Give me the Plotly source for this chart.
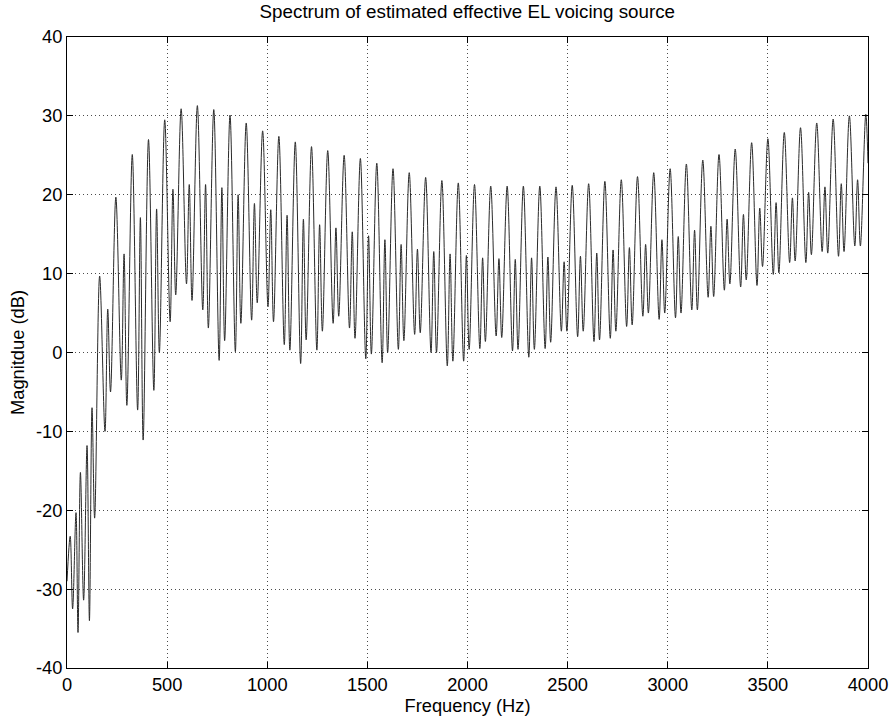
import plotly.graph_objects as go

# ---------------- data ----------------
# low-frequency region (below the 2nd harmonic), Hz and dB
low_freq = [0, 16, 28, 45, 55, 67, 83, 100, 112, 125, 138]
low_db = [-29.0, -23.3, -32.5, -20.3, -35.5, -15.2, -31.4, -11.8, -34.0, -7.0, -21.0]

# harmonic peak frequencies (k = 2 .. 49), Hz
harm_freq = [163, 244, 326, 407, 488, 570, 651, 733, 814, 895, 977, 1058, 1140,
             1221, 1302, 1384, 1465, 1547, 1628, 1709, 1791, 1872, 1954, 2035,
             2116, 2198, 2279, 2361, 2442, 2523, 2605, 2686, 2768, 2849, 2930,
             3012, 3093, 3175, 3256, 3337, 3419, 3500, 3582, 3663, 3744, 3826,
             3907, 3989]

# major (harmonic) peak levels, dB  (k = 2 .. 49)
peak_db = [9.7, 19.7, 25.1, 27.0, 29.5, 30.9, 31.3, 30.8, 30.1, 29.1, 28.1, 27.4,
           26.7, 26.1, 25.6, 25.0, 24.6, 24.0, 23.3, 22.8, 22.2, 21.8, 21.5, 21.3,
           21.1, 21.1, 21.1, 21.1, 21.0, 21.2, 21.4, 21.7, 21.9, 22.3, 22.8, 23.3,
           23.9, 24.4, 25.1, 25.8, 26.6, 27.1, 27.9, 28.5, 29.1, 29.6, 30.0, 30.2]

# minor peaks between harmonics, dB  (k + 1/2, k = 2 .. 48)
minor_db = [5.5, 12.5, 17.1, 18.2, 20.7, 21.3, 21.3, 20.9, 20.0, 18.9, 18.1, 17.4,
            16.9, 16.2, 15.8, 15.3, 14.8, 14.3, 13.7, 13.1, 12.8, 12.5, 12.3, 12.0,
            11.9, 11.8, 12.0, 12.1, 11.5, 12.2, 12.6, 13.0, 13.3, 13.7, 14.3, 14.7,
            15.5, 16.0, 16.9, 17.5, 18.3, 19.0, 19.6, 20.3, 21.0, 21.4, 21.9]

# nulls after each harmonic peak (first) and after each minor peak (second), dB
trough1_db = [-10.0, -3.5, -7.3, -4.8, 3.9, 8.7, 5.4, -1.0, 0.1, 4.1, 5.8, 1.0,
              -1.4, 0.3, 3.7, 3.1, -0.8, -1.3, 0.4, 2.3, 0.0, -1.7, -1.1, 0.5,
              2.1, 0.2, -0.6, 0.5, 2.7, 2.0, 1.4, 1.8, 3.3, 4.6, 4.2, 4.4,
              5.4, 7.0, 7.9, 8.3, 8.5, 9.9, 11.4, 11.4, 12.8, 12.2, 13.5]
trough2_db = [-5.0, -6.7, -11.1, 0.0, 7.3, 6.6, 3.1, 1.5, 3.7, 6.3, 3.9, 0.3,
              1.6, 2.7, 4.6, 1.8, -0.2, 0.0, 1.5, 2.5, 0.0, -1.1, 0.4, 1.4,
              1.9, 0.4, 0.4, 1.3, 2.7, 2.7, 1.6, 2.7, 3.5, 5.0, 5.0, 5.0,
              5.4, 7.1, 8.7, 9.2, 10.9, 10.1, 11.6, 12.4, 12.6, 12.8, 13.5]

# relative position of (null, minor peak, null) inside one harmonic spacing
lobe_pos = [0.33, 0.5, 0.67]

end_freq = 4000
end_db = 24.0

x_ticks = [0, 500, 1000, 1500, 2000, 2500, 3000, 3500, 4000]
y_ticks = [-40, -30, -20, -10, 0, 10, 20, 30, 40]

# ---------------- build the curve ----------------
xs = list(low_freq)
ys = list(low_db)
for i in range(len(minor_db)):
    f0 = harm_freq[i]
    df = harm_freq[i + 1] - harm_freq[i]
    xs += [f0, f0 + lobe_pos[0] * df, f0 + lobe_pos[1] * df, f0 + lobe_pos[2] * df]
    ys += [peak_db[i], trough1_db[i], minor_db[i], trough2_db[i]]
xs += [harm_freq[-1], end_freq]
ys += [peak_db[-1], end_db]

fig = go.Figure()
fig.add_trace(go.Scatter(
    x=xs, y=ys, mode="lines",
    line=dict(color="#2a2a2a", width=1, shape="spline", smoothing=1.0),
    hoverinfo="skip", showlegend=False,
))

font_family = "Liberation Sans, Arial, sans-serif"
tick_font = dict(family=font_family, size=18.3, color="#000000")
axis_common = dict(
    showline=True, linecolor="#000000", linewidth=1, mirror="allticks",
    ticks="inside", ticklen=6, tickcolor="#000000", tickwidth=1,
    showgrid=True, gridcolor="rgba(0,0,0,0.7)", gridwidth=1, griddash="1px,3px",
    zeroline=False, tickfont=tick_font, automargin=False,
)

fig.update_layout(
    width=891, height=717,
    margin=dict(l=67, r=23, t=37, b=49, autoexpand=False),
    paper_bgcolor="#ffffff", plot_bgcolor="#ffffff",
    title=dict(text="Spectrum of estimated effective EL voicing source",
               x=0.5245, xanchor="center", y=0.993, yanchor="top",
               font=dict(family=font_family, size=18.8, color="#000000")),
    xaxis=dict(range=[0, 4000], tickvals=x_ticks, ticktext=[str(v) for v in x_ticks],
               title=dict(text="Frequency (Hz)", standoff=4,
                          font=dict(family=font_family, size=18.3, color="#000000")),
               **axis_common),
    yaxis=dict(range=[-40, 40], tickvals=y_ticks, ticktext=[str(v) for v in y_ticks],
               title=dict(text="Magnitdue (dB)", standoff=6,
                          font=dict(family=font_family, size=18.3, color="#000000")),
               **axis_common),
)

fig.write_html("out.html")
